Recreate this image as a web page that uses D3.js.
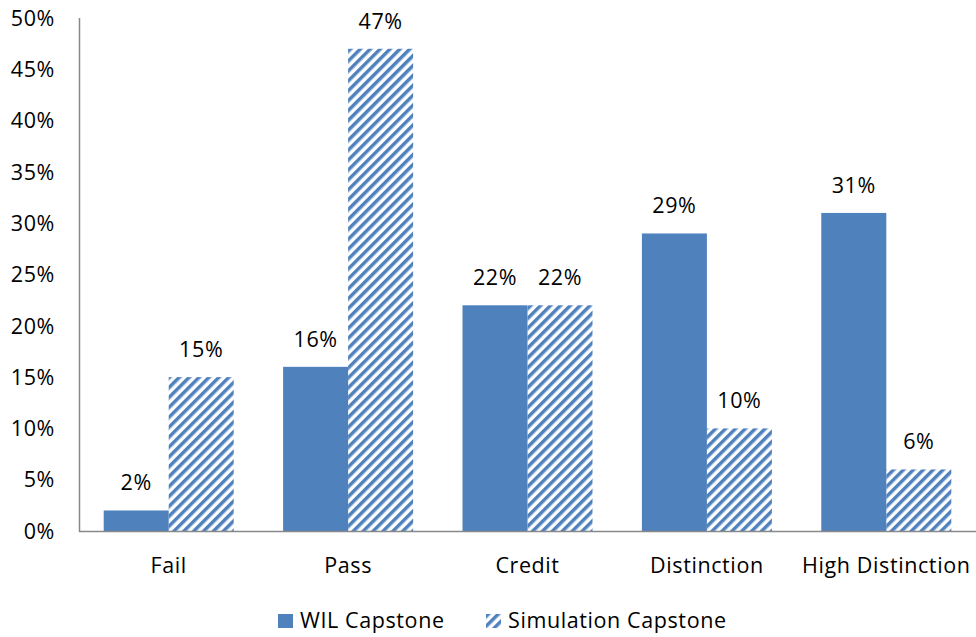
<!DOCTYPE html>
<html>
<head>
<meta charset="utf-8">
<script src="https://cdn.jsdelivr.net/npm/d3@7"></script>
<style>
	body { margin: 0; background: #fff; }
	text { font-family: "Open Sans", Lato, sans-serif; fill: #000; letter-spacing: 0.6px; }
</style>
</head>
<body>
<script>
var categories = ["Fail", "Pass", "Credit", "Distinction", "High Distinction"];
var seriesNames = ["WIL Capstone", "Simulation Capstone"];
var wilValues = [2, 16, 22, 29, 31];
var simValues = [15, 47, 22, 10, 6];
var yTicks = [0, 5, 10, 15, 20, 25, 30, 35, 40, 45, 50];

var width = 976,
	height = 637;
var blue = "#4f81bd";
var fontSize = "21.5px";

var svg = d3.select("body").append("svg")
	.attr("width", width)
	.attr("height", height);

// hatch for the simulation series
var defs = svg.append("defs");
var pat = defs.append("pattern")
	.attr("id", "hatch")
	.attr("patternUnits", "userSpaceOnUse")
	.attr("width", 7)
	.attr("height", 7)
	.attr("patternTransform", "rotate(45)");
pat.append("rect")
	.attr("x", 0).attr("y", 0)
	.attr("width", 3.5).attr("height", 7)
	.attr("fill", blue);

var x0 = d3.scaleBand()
	.domain(categories)
	.range([79, 976])
	.paddingInner(0)
	.paddingOuter(0);

var x1 = d3.scaleBand()
	.domain(seriesNames)
	.range([0, x0.bandwidth()])
	.paddingInner(0)
	.paddingOuter(0.38);

var y = d3.scaleLinear()
	.domain([0, 50])
	.range([531, 18]);

// y tick labels
svg.append("g")
	.selectAll("text")
	.data(yTicks)
	.enter()
	.append("text")
	.attr("x", 55)
	.attr("y", function(d) { return y(d); })
	.attr("dy", "0.36em")
	.attr("text-anchor", "end")
	.style("font-size", fontSize)
	.text(function(d) { return d + "%"; });

var rows = categories.map(function(c, i) {
	return [
		{ cat: c, series: seriesNames[0], value: wilValues[i] },
		{ cat: c, series: seriesNames[1], value: simValues[i] }
	];
});

var groups = svg.append("g")
	.selectAll("g")
	.data(rows)
	.enter()
	.append("g")
	.attr("transform", function(d, i) { return "translate(" + x0(categories[i]) + ",0)"; });

groups.selectAll("rect")
	.data(function(d) { return d; })
	.enter()
	.append("rect")
	.attr("x", function(d) { return x1(d.series); })
	.attr("y", function(d) { return y(d.value); })
	.attr("width", x1.bandwidth())
	.attr("height", function(d) { return y(0) - y(d.value); })
	.attr("fill", function(d) { return d.series === seriesNames[0] ? blue : "url(#hatch)"; });

groups.selectAll("text")
	.data(function(d) { return d; })
	.enter()
	.append("text")
	.attr("x", function(d) { return x1(d.series) + x1.bandwidth() / 2; })
	.attr("y", function(d) { return y(d.value) - 20; })
	.attr("text-anchor", "middle")
	.style("font-size", fontSize)
	.text(function(d) { return d.value + "%"; });

// axes lines
svg.append("line")
	.attr("x1", 79.5).attr("x2", 79.5)
	.attr("y1", 18).attr("y2", 532)
	.attr("stroke", "#898989").attr("stroke-width", 1.5);
svg.append("line")
	.attr("x1", 79).attr("x2", 976)
	.attr("y1", 531.5).attr("y2", 531.5)
	.attr("stroke", "#898989").attr("stroke-width", 1.5);

// category labels
svg.append("g")
	.selectAll("text")
	.data(categories)
	.enter()
	.append("text")
	.attr("x", function(d) { return x0(d) + x0.bandwidth() / 2; })
	.attr("y", 573)
	.attr("text-anchor", "middle")
	.style("font-size", fontSize)
	.text(function(d) { return d; });

// legend
var legendX = [278, 486];
var legend = svg.append("g")
	.selectAll("g")
	.data(seriesNames)
	.enter()
	.append("g")
	.attr("transform", function(d, i) { return "translate(" + legendX[i] + ",614)"; });
legend.append("rect")
	.attr("width", 15).attr("height", 14)
	.attr("fill", function(d, i) { return i === 0 ? blue : "url(#hatch)"; });
legend.append("text")
	.attr("x", 22)
	.attr("y", 14)
	.style("font-size", fontSize)
	.text(function(d) { return d; });
</script>
</body>
</html>
